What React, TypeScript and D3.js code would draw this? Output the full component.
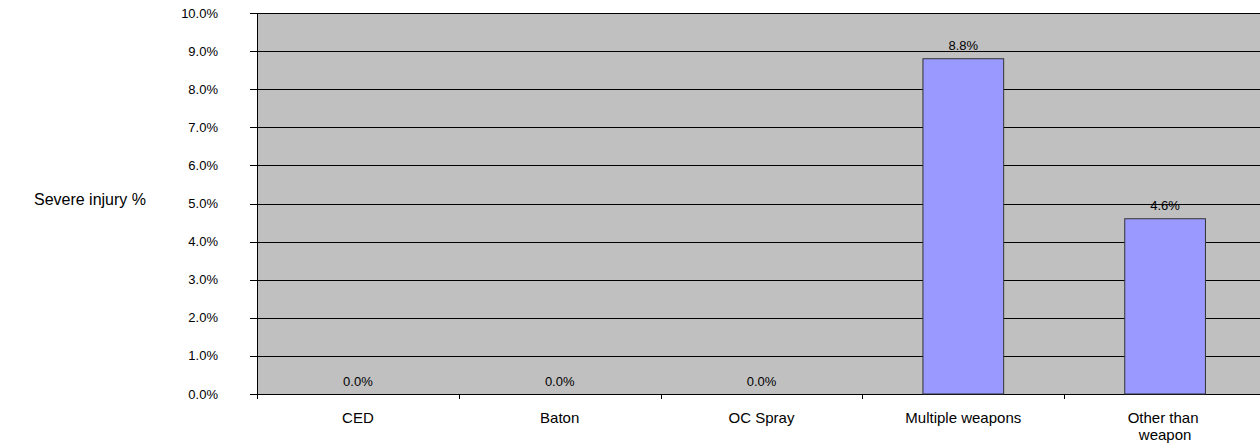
import React from 'react';
import * as d3 from 'd3';

const categories = ['CED', 'Baton', 'OC Spray', 'Multiple weapons', 'Other than weapon'];
const values = [0.0, 0.0, 0.0, 0.088, 0.046];
const yTicks = [0, 0.01, 0.02, 0.03, 0.04, 0.05, 0.06, 0.07, 0.08, 0.09, 0.1];
const labelLines: { [k: string]: string[] } = {
  'Other than weapon': ['Other than', 'weapon'],
};

const width = 1260;
const height = 444;
const plotLeft = 257;
const plotRight = 1266;
const plotTop = 13;
const plotBottom = 394;
const font = 'Arial, "Liberation Sans", sans-serif';

export default function App() {
  const x = d3.scaleBand<string>().domain(categories).range([plotLeft, plotRight]).padding(0);
  const y = d3.scaleLinear().domain([0, 0.1]).range([plotBottom, plotTop]);
  const fmt = d3.format('.1%');
  const barW = x.bandwidth() * 0.4;
  const boundaries = categories.map((c) => x(c) as number).concat([plotRight]);

  return (
    <svg width={width} height={height} style={{ position: 'absolute', left: 0, top: 0, display: 'block' }}>
      <rect x={0} y={0} width={width} height={height} fill="#fff" />
      <rect x={plotLeft} y={plotTop} width={plotRight - plotLeft} height={plotBottom - plotTop} fill="#C0C0C0" />
      {/* gridlines and y ticks */}
      {yTicks.map((t) => (
        <g key={t}>
          <line x1={plotLeft - 7} x2={plotRight} y1={Math.round(y(t)) + 0.5} y2={Math.round(y(t)) + 0.5} stroke="#000" strokeWidth={1} />
          <text x={218} y={y(t) + 4.5} textAnchor="end" fontFamily={font} fontSize={13} fill="#000">
            {fmt(t)}
          </text>
        </g>
      ))}
      <line x1={plotLeft + 0.5} x2={plotLeft + 0.5} y1={plotTop} y2={plotBottom + 5} stroke="#000" />
      {boundaries.map((b, i) => (
        <line key={i} x1={Math.round(b) + 0.5} x2={Math.round(b) + 0.5} y1={plotBottom} y2={plotBottom + 5} stroke="#000" />
      ))}
      {/* bars */}
      {categories.map((c, i) => {
        const cx = (x(c) as number) + x.bandwidth() / 2;
        const top = y(values[i]);
        const lines = labelLines[c] || [c];
        return (
          <g key={c}>
            {values[i] > 0 && (
              <rect x={cx - barW / 2} y={top} width={barW} height={plotBottom - top} fill="#9999FF" stroke="#333" strokeWidth={1} />
            )}
            <text x={cx} y={top - 8.5} textAnchor="middle" fontFamily={font} fontSize={13} fill="#000">
              {fmt(values[i])}
            </text>
            {lines.map((line, j) => (
              <text key={j} x={cx + (lines.length > 1 && j === 0 ? -2 : 0)} y={423 + j * 17} textAnchor="middle" fontFamily={font} fontSize={15} fill="#000">
                {line}
              </text>
            ))}
          </g>
        );
      })}
      <text x={146} y={205} textAnchor="end" fontFamily={font} fontSize={16} fill="#000">
        Severe injury %
      </text>
    </svg>
  );
}
